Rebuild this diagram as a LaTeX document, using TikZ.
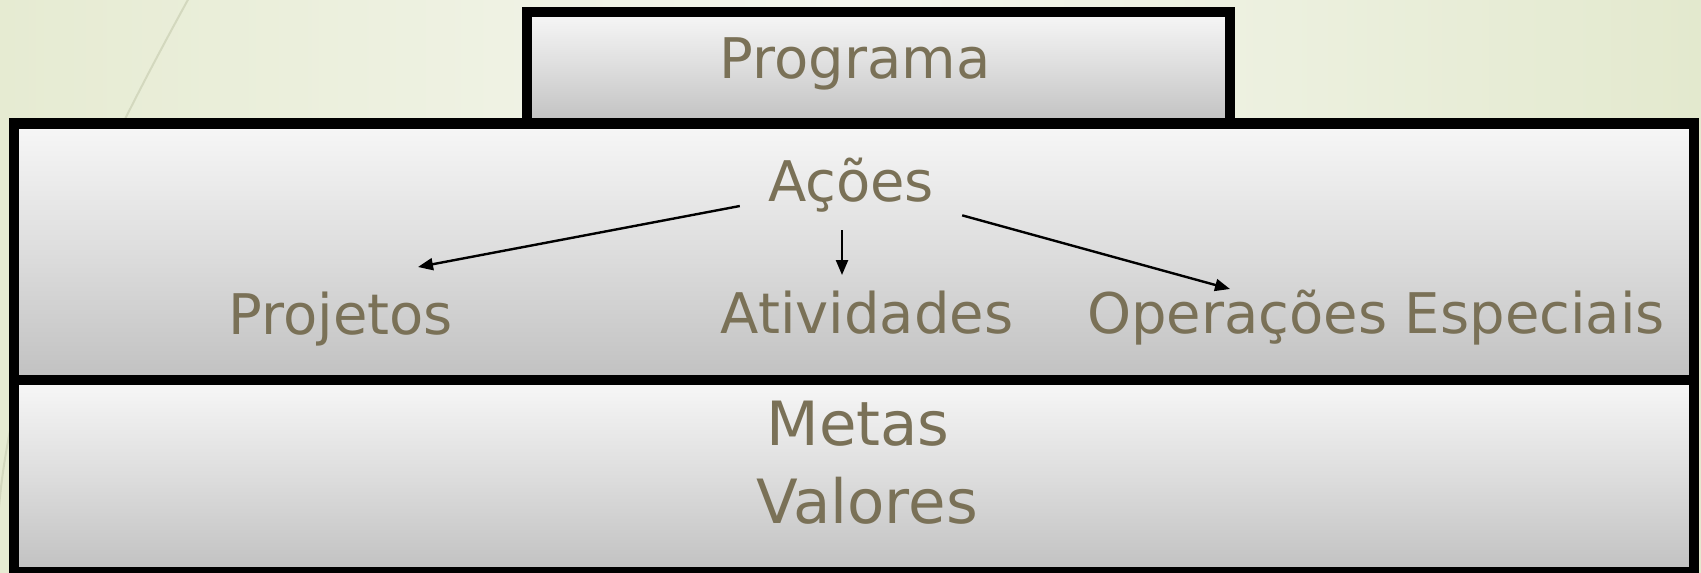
\documentclass[tikz,border=0pt]{standalone}
\usepackage{fontspec}
\setmainfont{DejaVu Sans}
\usetikzlibrary{arrows.meta}
\definecolor{texto}{HTML}{7A7157}
\definecolor{fundoA}{HTML}{E6EBD2}
\definecolor{fundoB}{HTML}{F5F7EF}
\definecolor{fundoC}{HTML}{E3E9CE}
\definecolor{curva}{HTML}{D3D8BE}
\definecolor{cinzaA}{HTML}{F7F7F7}
\definecolor{cinzaM}{HTML}{DDDDDD}
\definecolor{cinzaB}{HTML}{C1C1C1}
\tikzset{
  caixa/.style={draw=black,line width=10.5pt,top color=cinzaA,bottom color=cinzaB,middle color=cinzaM},
  rotulo/.style={text=texto,font=\fontsize{56}{60}\selectfont,anchor=base,inner sep=0pt},
  rotulogrande/.style={rotulo,font=\fontsize{61}{66}\selectfont},
  seta/.style={line width=2.4pt,-{Triangle[length=15pt,width=12pt]}}
}
\begin{document}
\begin{tikzpicture}[x=1pt,y=-1pt]
  \useasboundingbox (0,0) rectangle (1701,573);
  \shade[left color=fundoA,right color=fundoC,middle color=fundoB] (0,0) rectangle (1701,573);
  \draw[curva,line width=2pt] (190,-4) .. controls (100,160) and (10,340) .. (-2,520);

  \draw[caixa] (527,12) rectangle (1230,123.5);
  \draw[caixa] (14,123.5) rectangle (1694,380);
  \draw[caixa] (14,380) rectangle (1694,572);

  \node[rotulo] (programa) at (855,78) {Programa};
  \node[rotulo,anchor=center,minimum width=222pt,minimum height=90pt] (acoes) at (851,185) {Ações};
  \node[rotulo] (projetos) at (341,334) {Projetos};
  \node[rotulo] (atividades) at (867,333) {Atividades};
  \node[rotulo] (operacoes) at (1376,333) {Operações Especiais};
  \node[rotulogrande] (metas) at (858,445) {Metas};
  \node[rotulogrande] (valores) at (867,523) {Valores};

  \coordinate (pjseta) at (418,267);
  \coordinate (atseta) at (842,275);
  \coordinate (opseta) at (1230,289);
  \draw[seta] (acoes) -- (pjseta);
  \draw[seta] (acoes.south -| atseta) -- (atseta);
  \draw[seta] (acoes) -- (opseta);
\end{tikzpicture}
\end{document}
